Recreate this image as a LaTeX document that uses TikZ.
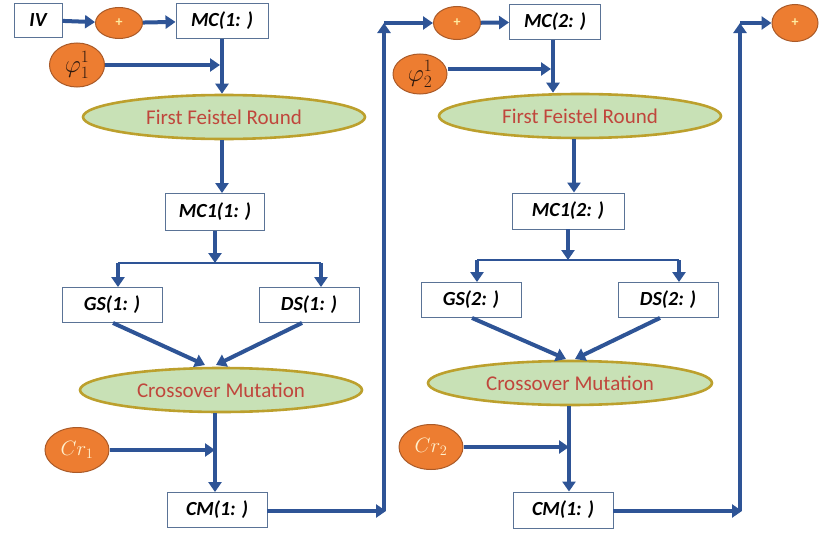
\documentclass[tikz,border=0pt]{standalone}
\usepackage{fontspec}
\setmainfont{Carlito}
\usetikzlibrary{arrows.meta,shapes.geometric}
\definecolor{flowc}{RGB}{46,84,150}
\definecolor{boxc}{RGB}{90,115,150}
\definecolor{orgfill}{RGB}{237,125,49}
\definecolor{orgdraw}{RGB}{170,90,40}
\definecolor{grfill}{RGB}{200,225,182}
\definecolor{grdraw}{RGB}{188,160,45}
\definecolor{grtext}{RGB}{192,70,60}
\definecolor{crtext}{RGB}{255,240,205}
\definecolor{phitext}{RGB}{45,25,15}
\definecolor{plustext}{RGB}{255,235,160}
\tikzset{
  flow/.style={line width=4pt,draw=flowc,-{Triangle[width=13pt,length=10pt]}},
  thinflow/.style={line width=1.3pt,draw=flowc},
  boxn/.style={draw=boxc,line width=0.9pt,fill=white,inner sep=0pt,minimum height=35pt,
    font=\fontsize{20}{22}\selectfont\bfseries\itshape},
  orb/.style={ellipse,fill=orgfill,draw=orgdraw,line width=1pt,inner sep=0pt},
  plusorb/.style={orb,font=\fontsize{14}{15}\selectfont\bfseries,text=plustext},
  mathorb/.style={orb,font=\fontsize{24}{26}\selectfont},
  bigell/.style={ellipse,fill=grfill,draw=grdraw,line width=2.6pt,inner sep=0pt,
    minimum height=44pt,minimum width=282pt,text=grtext,font=\fontsize{21}{24}\selectfont},
}
\begin{document}
\begin{tikzpicture}[x=1pt,y=-1pt]
\useasboundingbox (0,0) rectangle (827,538);
% ---------- left column ----------
\node[boxn,minimum width=48pt,minimum height=34pt] (iv) at (38,20) {IV};
\node[plusorb,minimum width=47pt,minimum height=31pt] (p1) at (119,23) {+};
\node[boxn,minimum width=92pt] (mc1) at (222,21) {MC(1: )};
\node[mathorb,minimum width=55pt,minimum height=44pt,text=phitext] (phi1) at (77,65) {$\varphi^1_1$};
\node[bigell] (ffr1) at (224,117) {First Feistel Round};
\node[boxn,minimum width=99pt,minimum height=37pt] (mc11) at (215,212) {MC1(1: )};
\node[boxn,minimum width=100pt] (gs1) at (112,305) {GS(1: )};
\node[boxn,minimum width=100pt] (ds1) at (309,305) {DS(1: )};
\node[bigell] (cx1) at (221,390) {Crossover Mutation};
\node[mathorb,minimum width=64pt,minimum height=45pt,text=crtext,font=\fontsize{21}{23}\selectfont] (cr1) at (77,450) {$Cr_1$};
\node[boxn,minimum width=100pt] (cm1) at (217,510) {CM(1: )};
\coordinate (t1) at (220,65);
\coordinate (v1) at (215,0);
\coordinate (s1) at (215,263);
\coordinate (sl1) at (118,263);
\coordinate (sr1) at (321,263);
\coordinate (g1) at (205,365);
\coordinate (d1) at (216,365);
\coordinate (c1) at (386,511);
\coordinate (c2) at (384,23);
\draw[flow] (iv) -- (p1);
\draw[flow] (p1) -- (mc1);
\draw[flow] (phi1.east |- t1) -- (t1);
\draw[flow] (mc1.south) -- (mc1.south |- ffr1.north);
\draw[flow] (ffr1.south -| mc1) -- (mc1 |- mc11.north);
\draw[flow] (mc11.south) -- (s1);
\draw[thinflow] (sl1) -- (sr1);
\draw[flow] (sl1) -- (sl1 |- gs1.north);
\draw[flow] (sr1) -- (sr1 |- ds1.north);
\draw[flow] ([xshift=1pt]gs1.south) -- (g1);
\draw[flow] ([xshift=-7pt]ds1.south) -- (d1);
\draw[flow] (cx1.south -| v1) -- (v1 |- cm1.north);
\draw[flow] (cr1.east) -- (cr1.east -| v1);
\draw[flow] (cm1.east |- c1) -- (c1);
\draw[flow] (c2 |- c1) -- (c2);
% ---------- right column ----------
\node[plusorb,minimum width=47pt,minimum height=33pt] (p2) at (457,23) {+};
\node[boxn,minimum width=91pt] (mc2) at (555,22) {MC(2: )};
\node[mathorb,minimum width=54pt,minimum height=40pt,text=phitext] (phi2) at (420,74) {$\varphi^1_2$};
\node[bigell] (ffr2) at (580,116) {First Feistel Round};
\node[boxn,minimum width=112pt,minimum height=36pt] (mc12) at (568,211) {MC1(2: )};
\node[boxn,minimum width=100pt] (gs2) at (471,300) {GS(2: )};
\node[boxn,minimum width=100pt] (ds2) at (668,300) {DS(2: )};
\node[bigell,minimum width=284pt] (cx2) at (570,383) {Crossover Mutation};
\node[mathorb,minimum width=64pt,minimum height=45pt,text=crtext,font=\fontsize{21}{23}\selectfont] (cr2) at (431,447) {$Cr_2$};
\node[boxn,minimum width=100pt,minimum height=36pt] (cm2) at (563,510) {CM(1: )};
\node[plusorb,minimum width=46pt,minimum height=37pt] (p3) at (795,23) {+};
\coordinate (t2) at (551,69);
\coordinate (u2) at (553,0);
\coordinate (w2) at (574,0);
\coordinate (v2) at (569,0);
\coordinate (s2) at (568,260);
\coordinate (sl2) at (477,260);
\coordinate (sr2) at (679,260);
\coordinate (g2) at (566,359);
\coordinate (d2) at (575,359);
\coordinate (c3) at (742,511);
\coordinate (c4) at (740,23);
\draw[flow] (c2) -- (p2);
\draw[flow] (p2) -- (mc2);
\draw[flow] (phi2.east |- t2) -- (t2);
\draw[flow] (mc2.south -| u2) -- (u2 |- ffr2.north);
\draw[flow] (ffr2.south -| w2) -- (w2 |- mc12.north);
\draw[flow] (mc12.south) -- (s2);
\draw[thinflow] (sl2) -- (sr2);
\draw[flow] (sl2) -- (sl2 |- gs2.north);
\draw[flow] (sr2) -- (sr2 |- ds2.north);
\draw[flow] ([xshift=1pt]gs2.south) -- (g2);
\draw[flow] ([xshift=-8pt]ds2.south) -- (d2);
\draw[flow] (cx2.south -| v2) -- (v2 |- cm2.north);
\draw[flow] (cr2.east) -- (cr2.east -| v2);
\draw[flow] (cm2.east |- c3) -- (c3);
\draw[flow] (c4 |- c3) -- (c4);
\draw[flow] (c4) -- (p3);
\end{tikzpicture}
\end{document}
